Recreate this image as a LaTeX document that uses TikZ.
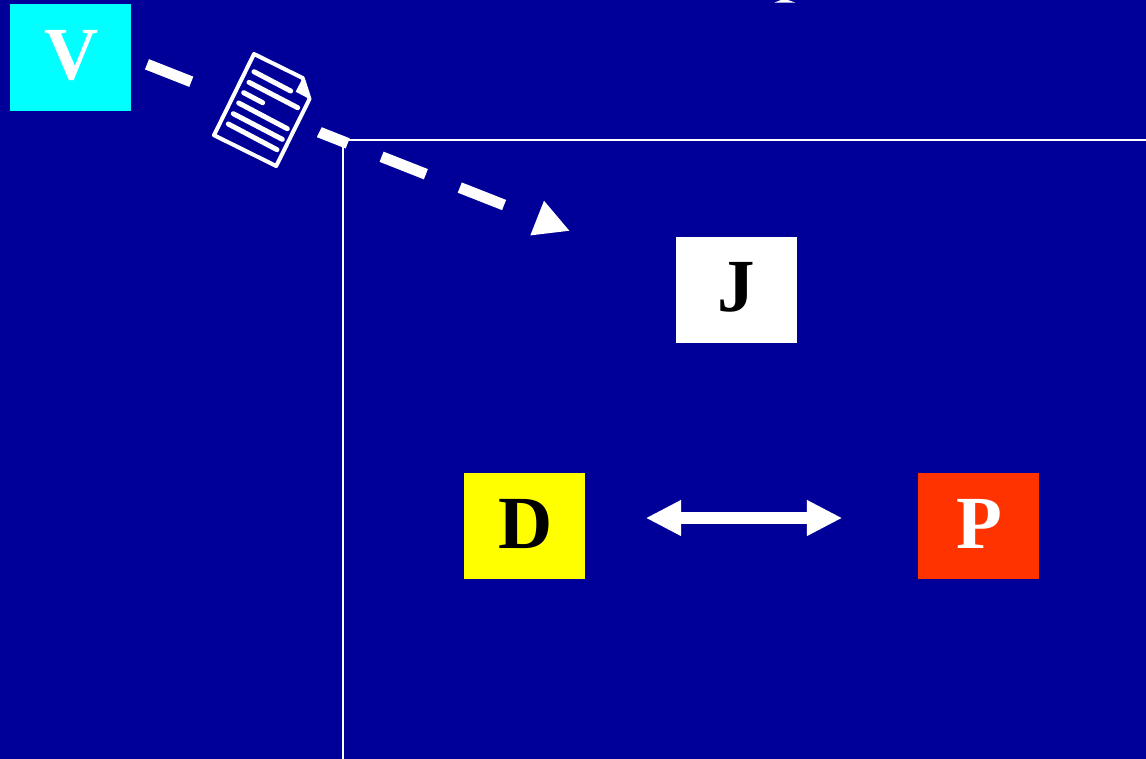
\documentclass[tikz,border=0pt]{standalone}
\usepackage{fontspec}
\setmainfont{Liberation Serif}
\usepackage{tikz}
\usetikzlibrary{arrows.meta}
\definecolor{bgblue}{HTML}{000099}
\definecolor{redbox}{HTML}{FF3300}
\definecolor{cyanbox}{HTML}{00FFFF}
\definecolor{yellowbox}{HTML}{FFFF00}

\begin{document}
\begin{tikzpicture}[
  letterbox/.style={minimum width=121bp,minimum height=106.5bp,inner sep=0pt,text height=50bp,text depth=6bp,font=\fontsize{75bp}{75bp}\selectfont\bfseries},
  borderline/.style={white,line width=2bp},
  bigarrow/.style={white,line width=11.5bp,{Triangle[length=35.5bp,width=33.5bp]}-{Triangle[length=35.5bp,width=33.5bp]},shorten <=60.5bp,shorten >=75.5bp},
  dasharrow/.style={white,line width=11bp,dash pattern=on 47.6bp off 36.45bp,-{Triangle[length=35.3bp,width=34.5bp]}},
  pagestroke/.style={white,line width=4bp,line join=round},
  textbar/.style={white,line width=5bp,line cap=round}]
\useasboundingbox (0bp,0bp) rectangle (1146bp,-759bp);
\fill [bgblue] (0bp,0bp) rectangle (1146bp,-759bp);
% boundary
\coordinate (B1) at (343bp,-139.5bp);
\coordinate (B2) at (1146bp,-139.5bp);
\coordinate (B3) at (343bp,-759bp);
\draw [borderline] (B2) -- (B1) -- (B3);
% boxes
\node (V) at (70.5bp,-57.5bp)[letterbox,fill=cyanbox,text=white] {\hspace*{2bp}V};
\node (J) at (736.5bp,-290bp)[letterbox,fill=white,text=black,text depth=8bp,text height=50bp] {J};
\node (D) at (524.5bp,-526bp)[letterbox,fill=yellowbox,text=black] {\hspace*{2bp}D};
\node (P) at (978.5bp,-526bp)[letterbox,fill=redbox,text=white] {\hspace*{2bp}P};
% document travelling to J
\coordinate (dashstart) at (147bp,-64.3bp);
\coordinate (dashend) at (570bp,-231bp);
\draw [dasharrow] (dashstart) -- (dashend);
\node (docmask) at (265.4bp,-110bp)[rotate=-26.3,fill=bgblue,minimum width=116bp,minimum height=110bp] {};
\draw [pagestroke] (254bp,-54bp) -- (302.7bp,-78bp) -- (309.5bp,-99bp) -- (276.2bp,-166bp) -- (214bp,-135.2bp) -- cycle;
\fill [pagestroke] (302.7bp,-78bp) -- (309.5bp,-99bp) -- (295.7bp,-91.7bp) -- cycle;
\draw [textbar] (254bp,-71.7bp) -- (290.7bp,-91bp);
\draw [textbar] (249bp,-82.3bp) -- (297.7bp,-107.7bp);
\draw [textbar] (243.7bp,-92.7bp) -- (262.7bp,-102.7bp);
\draw [textbar] (238.7bp,-103bp) -- (287.3bp,-128.7bp);
\draw [textbar] (233.3bp,-113.7bp) -- (282.3bp,-139.3bp);
\draw [textbar] (228.3bp,-124bp) -- (277bp,-149.7bp);
% D and P
\draw [bigarrow] ([yshift=8bp]D.east) -- ([yshift=8bp]P.west);
% remnant at the top edge
\fill [white] (774.5bp,-2.5bp) -- (795bp,-2.5bp) -- (788bp,0bp) -- (781bp,0bp) -- cycle;
\end{tikzpicture}
\end{document}
